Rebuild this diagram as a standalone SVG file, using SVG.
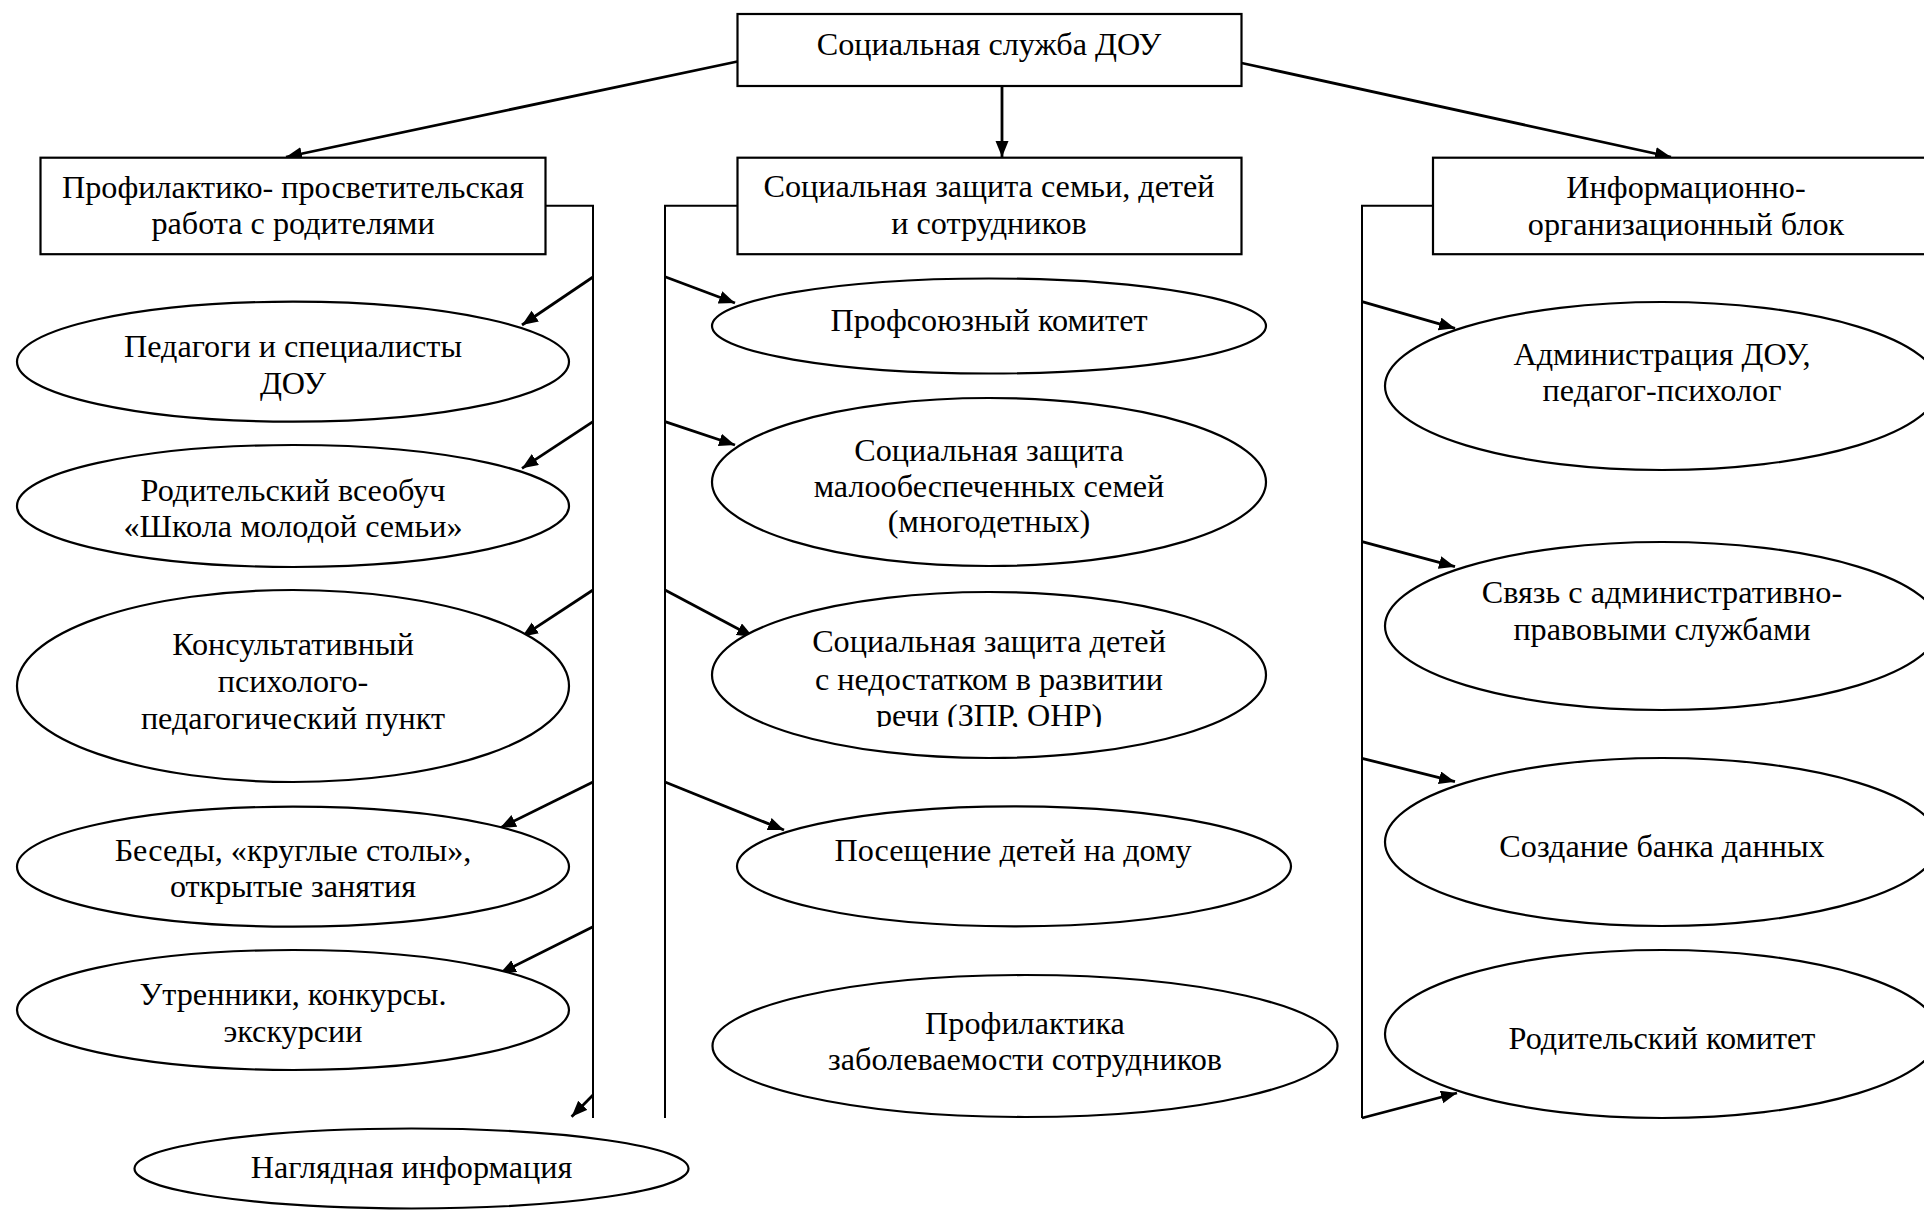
<svg xmlns="http://www.w3.org/2000/svg" width="1924" height="1210" viewBox="0 0 1924 1210">
<style>
.box{fill:#fff;stroke:#000;stroke-width:2.2}
.ell{fill:#fff;stroke:#000;stroke-width:2.2}
.t{font-family:"Liberation Serif","Times New Roman",serif;font-size:32.2px;fill:#000;text-anchor:middle}
.ln{fill:none;stroke:#000;stroke-width:2}
.ar{fill:none;stroke:#000;stroke-width:2.8;marker-end:url(#ah)}
</style>
<defs>
<marker id="ah" markerUnits="userSpaceOnUse" markerWidth="17" markerHeight="14" refX="16" refY="6.5" orient="auto">
<path d="M0,0 L16,6.5 L0,13 z" fill="#000"/>
</marker>
<clipPath id="cM3"><rect x="700" y="600" width="600" height="127"/></clipPath>
<clipPath id="cE5"><rect x="0" y="960" width="600" height="91"/></clipPath>
</defs>
<rect width="1924" height="1210" fill="#fff"/>
<g id="connectors">
<line class="ar" x1="737.5" y1="61.5" x2="286" y2="157"/>
<line class="ar" x1="1002" y1="86" x2="1002" y2="157"/>
<line class="ar" x1="1241.5" y1="63" x2="1671" y2="157"/>
<path class="ln" d="M545.5,205.7 H593 V1118"/>
<path class="ln" d="M737.5,205.7 H665 V1118"/>
<path class="ln" d="M1433,205.7 H1362 V1118"/>
<line class="ar" x1="593" y1="277" x2="522" y2="325"/>
<line class="ar" x1="593" y1="421.7" x2="522" y2="468.3"/>
<line class="ar" x1="593" y1="590" x2="522" y2="636.7"/>
<line class="ar" x1="593" y1="782" x2="500" y2="828"/>
<line class="ar" x1="593" y1="926.7" x2="500" y2="973.3"/>
<line class="ar" x1="593" y1="1095" x2="571.6" y2="1116.7"/>
<line class="ar" x1="665" y1="276.7" x2="735" y2="303"/>
<line class="ar" x1="665" y1="421.7" x2="735" y2="445"/>
<line class="ar" x1="665" y1="590" x2="753" y2="636.7"/>
<line class="ar" x1="665" y1="782" x2="784" y2="830"/>
<line class="ar" x1="1362" y1="301.7" x2="1455" y2="328.3"/>
<line class="ar" x1="1362" y1="541.7" x2="1455" y2="566.7"/>
<line class="ar" x1="1362" y1="758.3" x2="1455" y2="781.7"/>
<line class="ar" x1="1362" y1="1118" x2="1457" y2="1093"/>
</g>
<g id="n-root"><rect class="box" x="737.5" y="14" width="504" height="72"/><text class="t" x="989" y="55">Социальная служба ДОУ</text></g>
<g id="n-left"><rect class="box" x="40.5" y="157.7" width="505" height="96.5"/><text class="t" x="293" y="198">Профилактико- просветительская</text><text class="t" x="293" y="234">работа с родителями</text></g>
<g id="n-mid"><rect class="box" x="737.5" y="157.7" width="504" height="96.5"/><text class="t" x="989" y="197">Социальная защита семьи, детей</text><text class="t" x="989" y="234">и сотрудников</text></g>
<g id="n-right"><rect class="box" x="1433" y="157.7" width="506" height="96.5"/><text class="t" x="1686" y="198">Информационно-</text><text class="t" x="1686" y="235">организационный блок</text></g>
<g id="e1"><ellipse class="ell" cx="293" cy="361.7" rx="276" ry="60"/><text class="t" x="293" y="357">Педагоги и специалисты</text><text class="t" x="293" y="394">ДОУ</text></g>
<g id="e2"><ellipse class="ell" cx="293" cy="506" rx="276" ry="61"/><text class="t" x="293" y="501">Родительский всеобуч</text><text class="t" x="293" y="537">«Школа молодой семьи»</text></g>
<g id="e3"><ellipse class="ell" cx="293" cy="686" rx="276" ry="96"/><text class="t" x="293" y="655">Консультативный</text><text class="t" x="293" y="692">психолого-</text><text class="t" x="293" y="729">педагогический пункт</text></g>
<g id="e4"><ellipse class="ell" cx="293" cy="866.7" rx="276" ry="60"/><text class="t" x="293" y="861">Беседы, «круглые столы»,</text><text class="t" x="293" y="897">открытые занятия</text></g>
<g id="e5"><ellipse class="ell" cx="293" cy="1010" rx="276" ry="60"/><text class="t" x="293" y="1005">Утренники, конкурсы.</text><text class="t" x="293" y="1042" clip-path="url(#cE5)">экскурсии</text></g>
<g id="e6"><ellipse class="ell" cx="411.5" cy="1168.5" rx="277" ry="40"/><text class="t" x="411.5" y="1178">Наглядная информация</text></g>
<g id="m1"><ellipse class="ell" cx="989" cy="326" rx="277" ry="47.5"/><text class="t" x="989" y="331">Профсоюзный комитет</text></g>
<g id="m2"><ellipse class="ell" cx="989" cy="482" rx="277" ry="84"/><text class="t" x="989" y="461">Социальная защита</text><text class="t" x="989" y="497">малообеспеченных семей</text><text class="t" x="989" y="532">(многодетных)</text></g>
<g id="m3"><ellipse class="ell" cx="989" cy="675" rx="277" ry="83"/><text class="t" x="989" y="652">Социальная защита детей</text><text class="t" x="989" y="690">с недостатком в развитии</text><text class="t" x="989" y="726" clip-path="url(#cM3)">речи (ЗПР, ОНР)</text></g>
<g id="m4"><ellipse class="ell" cx="1014" cy="866.3" rx="277" ry="60"/><text class="t" x="1013" y="861">Посещение детей на дому</text></g>
<g id="m5"><ellipse class="ell" cx="1025" cy="1046" rx="312.5" ry="71"/><text class="t" x="1025" y="1034">Профилактика</text><text class="t" x="1025" y="1070">заболеваемости сотрудников</text></g>
<g id="r1"><ellipse class="ell" cx="1662" cy="386" rx="277" ry="84"/><text class="t" x="1662" y="365">Администрация ДОУ,</text><text class="t" x="1662" y="401">педагог-психолог</text></g>
<g id="r2"><ellipse class="ell" cx="1662" cy="626" rx="277" ry="84"/><text class="t" x="1662" y="603">Связь с административно-</text><text class="t" x="1662" y="640">правовыми службами</text></g>
<g id="r3"><ellipse class="ell" cx="1662" cy="842" rx="277" ry="84"/><text class="t" x="1662" y="857">Создание банка данных</text></g>
<g id="r4"><ellipse class="ell" cx="1662" cy="1034" rx="277" ry="84"/><text class="t" x="1662" y="1049">Родительский комитет</text></g>
</svg>
